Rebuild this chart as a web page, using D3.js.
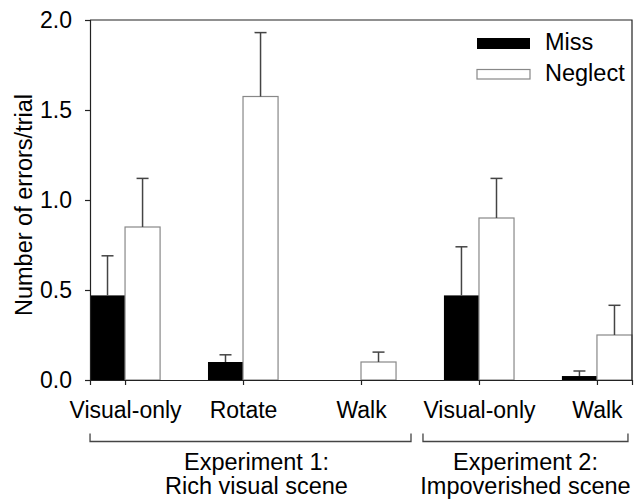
<!DOCTYPE html>
<html>
<head>
<meta charset="utf-8">
<script src="https://cdn.jsdelivr.net/npm/d3@7"></script>
<style>
    body { margin: 0; background: #fff; }
    text { font-family: "Liberation Sans", Arial, sans-serif; fill: #000; }
</style>
</head>
<body>
<div id="chart"></div>
<script>
// DATA
const conditions = ["Visual-only", "Rotate", "Walk", "Visual-only", "Walk"];
const missMean = [0.47, 0.10, 0, 0.47, 0.022];
const missErr = [0.22, 0.04, 0, 0.27, 0.028];
const neglectMean = [0.85, 1.575, 0.10, 0.90, 0.25];
const neglectErr = [0.27, 0.355, 0.055, 0.22, 0.165];
const experiments = ["Experiment 1:", "Experiment 2:"];
const experimentSub = ["Rich visual scene", "Impoverished scene"];
const experimentRange = [[0, 2], [3, 4]];
const yTicks = [0, 0.5, 1.0, 1.5, 2.0];
const seriesNames = ["Miss", "Neglect"];

// LAYOUT
const svgWidth = 638;
const svgHeight = 499;
const margin = {top: 20, right: 6, bottom: 119, left: 90};
const width = svgWidth - margin.left - margin.right;
const height = svgHeight - margin.top - margin.bottom;
const bracketPad = [[-35, 50], [-56, 31]];

const svg = d3.select("#chart")
    .append("svg")
    .attr("width", svgWidth)
    .attr("height", svgHeight);

const chartG = svg.append("g")
    .attr("transform", `translate(${margin.left}, ${margin.top})`);

const idx = conditions.map((d, i) => i);

const xScale = d3.scalePoint()
    .domain(idx)
    .range([0, width])
    .padding(0.297);

const bw = xScale.step() * 0.297;

const yScale = d3.scaleLinear()
    .domain([0, 2])
    .range([height, 0]);

// bars
const rows = idx.map(i => ({i, miss: missMean[i], missE: missErr[i], neg: neglectMean[i], negE: neglectErr[i]}));

const barsG = chartG.append("g");

barsG.selectAll("rect.miss")
    .data(rows.filter(d => d.miss > 0))
    .join("rect")
    .attr("class", "miss")
    .attr("x", d => xScale(d.i) - bw)
    .attr("y", d => yScale(d.miss))
    .attr("width", bw)
    .attr("height", d => yScale(0) - yScale(d.miss))
    .attr("fill", "#000");

barsG.selectAll("rect.neg")
    .data(rows)
    .join("rect")
    .attr("class", "neg")
    .attr("x", d => xScale(d.i))
    .attr("y", d => yScale(d.neg))
    .attr("width", bw)
    .attr("height", d => yScale(0) - yScale(d.neg))
    .attr("fill", "#fff")
    .attr("stroke", "#888")
    .attr("stroke-width", 1.2);

// error bars
const errs = [];
rows.forEach(d => {
    if (d.miss > 0) errs.push({cx: xScale(d.i) - bw / 2, m: d.miss, e: d.missE});
    errs.push({cx: xScale(d.i) + bw / 2, m: d.neg, e: d.negE});
});

const errG = chartG.append("g")
    .attr("stroke", "#444")
    .attr("stroke-width", 1.5);

errG.selectAll("line.stem")
    .data(errs)
    .join("line")
    .attr("x1", d => d.cx)
    .attr("x2", d => d.cx)
    .attr("y1", d => yScale(d.m))
    .attr("y2", d => yScale(d.m + d.e));

errG.selectAll("line.cap")
    .data(errs)
    .join("line")
    .attr("x1", d => d.cx - 6)
    .attr("x2", d => d.cx + 6)
    .attr("y1", d => yScale(d.m + d.e))
    .attr("y2", d => yScale(d.m + d.e));

// frame
chartG.append("path")
    .attr("d", `M 0 0 H ${width} V ${height}`)
    .attr("fill", "none")
    .attr("stroke", "#222")
    .attr("stroke-width", 1.2);

// axes
const yAxis = chartG.append("g")
    .call(d3.axisLeft(yScale).tickValues(yTicks).tickFormat(d3.format(".1f")).tickSize(5).tickPadding(13));

const xAxis = chartG.append("g")
    .attr("transform", `translate(0, ${height})`)
    .call(d3.axisBottom(xScale).tickFormat(i => conditions[i]).tickSize(5).tickPadding(17));

[yAxis, xAxis].forEach(a => {
    a.select(".domain").attr("stroke", "#222").attr("stroke-width", 1.2);
    a.selectAll(".tick line").attr("stroke", "#222").attr("stroke-width", 1.2);
    a.selectAll("text").attr("font-size", 23).attr("font-family", "Liberation Sans, Arial, sans-serif").attr("fill", "#000");
});

// y label
svg.append("text")
    .attr("transform", `translate(32, 205) rotate(-90)`)
    .attr("text-anchor", "middle")
    .attr("font-size", 23.5)
    .text("Number of errors/trial");

// brackets
const brG = svg.append("g")
    .attr("transform", `translate(${margin.left}, 0)`);

experiments.forEach((name, k) => {
    const x0 = xScale(experimentRange[k][0]) + bracketPad[k][0];
    const x1 = xScale(experimentRange[k][1]) + bracketPad[k][1];
    brG.append("path")
        .attr("d", `M ${x0} 433.5 V 441.5 H ${x1} V 433.5`)
        .attr("fill", "none")
        .attr("stroke", "#444")
        .attr("stroke-width", 1.3);
    const cx = (x0 + x1) / 2 + (k === 0 ? 6 : 0);
    brG.append("text")
        .attr("x", cx)
        .attr("y", 470)
        .attr("text-anchor", "middle")
        .attr("font-size", 23.5)
        .text(name);
    brG.append("text")
        .attr("x", cx)
        .attr("y", 494)
        .attr("text-anchor", "middle")
        .attr("font-size", 23.5)
        .text(experimentSub[k]);
});

// legend
const legendG = svg.append("g")
    .attr("transform", "translate(477, 38)");

seriesNames.forEach((name, k) => {
    legendG.append("rect")
        .attr("x", 0)
        .attr("y", k * 31 + (k ? 0.5 : 0))
        .attr("width", 53)
        .attr("height", k ? 9.5 : 11)
        .attr("fill", k ? "#fff" : "#000")
        .attr("stroke", k ? "#888" : "none")
        .attr("stroke-width", 1.2);
    legendG.append("text")
        .attr("x", 68)
        .attr("y", k * 31 + 11.5)
        .attr("font-size", 23.5)
        .text(name);
});
</script>
</body>
</html>
